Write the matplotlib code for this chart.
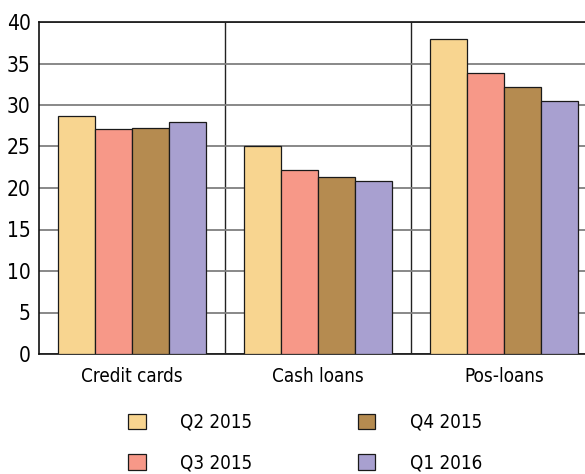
import matplotlib.pyplot as plt
import numpy as np

plt.rcParams['font.family'] = ['DejaVu Sans']
plt.rcParams['font.stretch'] = 'condensed'

categories = ['Credit cards', 'Cash loans', 'Pos-loans']
series = ['Q2 2015', 'Q3 2015', 'Q4 2015', 'Q1 2016']
values = {
    'Q2 2015': [28.7, 25.0, 38.0],
    'Q3 2015': [27.1, 22.2, 33.8],
    'Q4 2015': [27.2, 21.3, 32.2],
    'Q1 2016': [27.9, 20.8, 30.5],
}
colors = ['#f8d590', '#f79888', '#b58b50', '#a8a0d0']
y_ticks = [0, 5, 10, 15, 20, 25, 30, 35, 40]

fig = plt.figure(figsize=(5.85, 4.74), dpi=100)
ax = fig.add_axes([39/585, 1-354/474, 558/585, 332/474])

x = np.arange(len(categories))
w = 0.2
for i, s in enumerate(series):
    ax.bar(x + (i - 1.5)*w, values[s], w, color=colors[i], edgecolor='#1a1a1a',
           linewidth=0.9, label=s, zorder=3)

ax.set_xlim(-0.5, 2.5)
ax.set_ylim(0, 40)
ax.set_yticks(y_ticks)
ax.set_xticks(x)
ax.set_xticklabels(categories, fontsize=13.5)
ax.tick_params(axis='y', length=0, pad=6, labelsize=15)
ax.tick_params(axis='x', length=0, pad=9)
ax.yaxis.grid(True, color='#7f7f7f', linewidth=1.3, zorder=0)
for sep in [0.5, 1.5]:
    ax.axvline(sep, color='#222222', linewidth=1.0, zorder=1)
for sp in ['left', 'top', 'bottom']:
    ax.spines[sp].set_color('#111111')
    ax.spines[sp].set_linewidth(1.2)
ax.spines['right'].set_visible(False)

fig.legend(loc='upper left', bbox_to_anchor=(111/585, 1-396/474), ncol=2,
           frameon=False, fontsize=13.5, handlelength=0.95, handleheight=0.9,
           handletextpad=1.85, columnspacing=5.6, labelspacing=1.15)

plt.savefig('out.png', dpi=100)
